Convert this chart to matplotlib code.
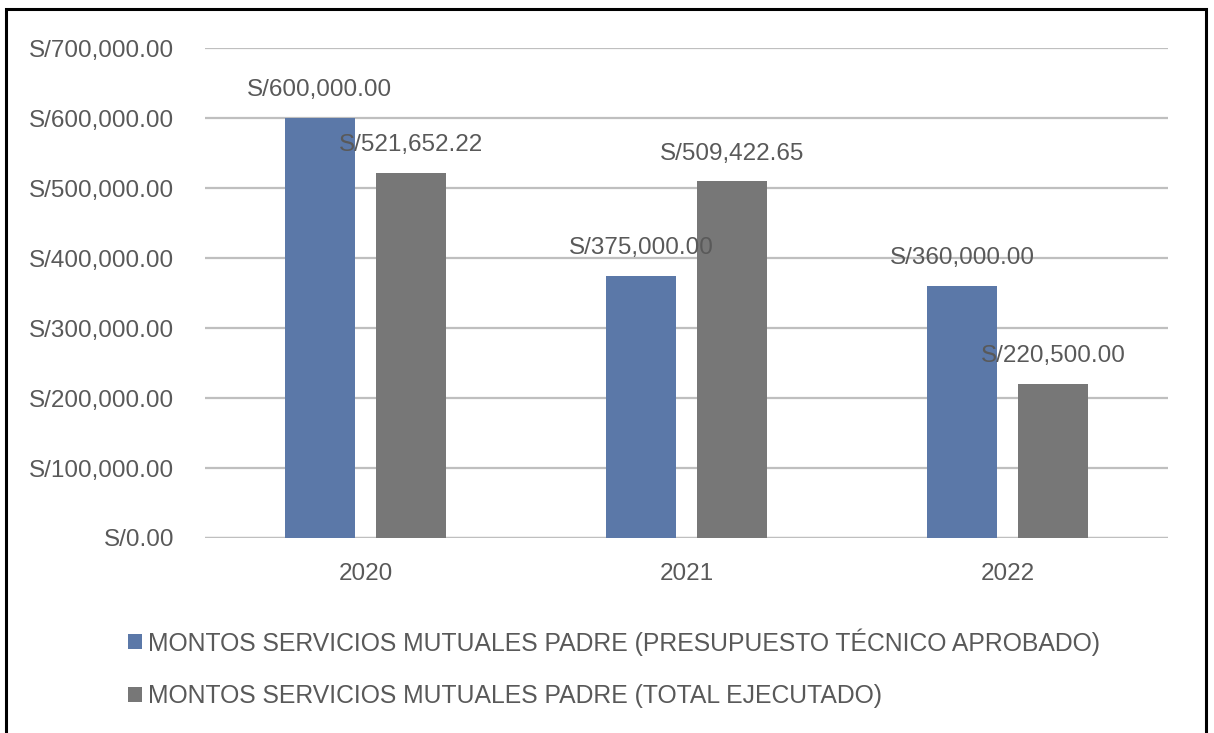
import matplotlib
matplotlib.use("Agg")
from matplotlib import pyplot as plt
from matplotlib.patches import Rectangle
from matplotlib.ticker import FuncFormatter
import numpy as np

years = ["2020", "2021", "2022"]
aprobado = [600000.00, 375000.00, 360000.00]
ejecutado = [521652.22, 509422.65, 220500.00]
series_names = ["MONTOS SERVICIOS MUTUALES PADRE (PRESUPUESTO TÉCNICO APROBADO)",
                "MONTOS SERVICIOS MUTUALES PADRE (TOTAL EJECUTADO)"]
y_ticks = [0, 100000, 200000, 300000, 400000, 500000, 600000, 700000]

plt.rcParams['font.family'] = ['Liberation Sans', 'DejaVu Sans']
txt_color = "#595959"
blue = "#5B78A8"
gray = "#777777"
fs = 17.5

def soles(v, pos=None):
    return "S/{:,.2f}".format(v)

fig = plt.figure(figsize=(12.14, 7.33), dpi=100)
ax = fig.add_axes([205/1214, 1-538/733, 963/1214, 490/733])

x = np.arange(len(years))
w = 0.22
off = 0.142
b1 = ax.bar(x - off, aprobado, w, color=blue, label=series_names[0], zorder=3)
b2 = ax.bar(x + off, ejecutado, w, color=gray, label=series_names[1], zorder=3)

for bars, vals in ((b1, aprobado), (b2, ejecutado)):
    for rect, v in zip(bars, vals):
        ax.annotate(soles(v), (rect.get_x() + rect.get_width()/2, v),
                    xytext=(0, 12), textcoords="offset points",
                    ha="center", va="bottom", fontsize=fs, color=txt_color, zorder=4)

ax.set_xlim(-0.5, 2.5)
ax.set_ylim(0, 700000)
ax.set_yticks(y_ticks)
ax.yaxis.set_major_formatter(FuncFormatter(soles))
ax.set_xticks(x)
ax.set_xticklabels(years)
ax.yaxis.grid(True, color="#BFBFBF", linewidth=1.6, zorder=0)
ax.set_axisbelow(True)
for s in ax.spines.values():
    s.set_visible(False)
ax.axhline(0, color="#BFBFBF", linewidth=1.6, zorder=2)
ax.tick_params(axis="both", length=0, labelsize=fs, labelcolor=txt_color)
ax.tick_params(axis="y", pad=22)
ax.tick_params(axis="x", pad=18)

leg = fig.legend(loc="upper left", bbox_to_anchor=(128/1214, 1-628/733), frameon=False,
                 fontsize=17.8, handlelength=0.55, handleheight=0.55, handletextpad=0.25,
                 labelspacing=1.15, borderaxespad=0, borderpad=0)
for t in leg.get_texts():
    t.set_color(txt_color)

fig.patches.append(Rectangle((6/1214, -0.05), 1200/1214, 1.05 - 9/733, transform=fig.transFigure,
                             fill=False, edgecolor="black", linewidth=2.2))

fig.savefig("out.png", dpi=100)
